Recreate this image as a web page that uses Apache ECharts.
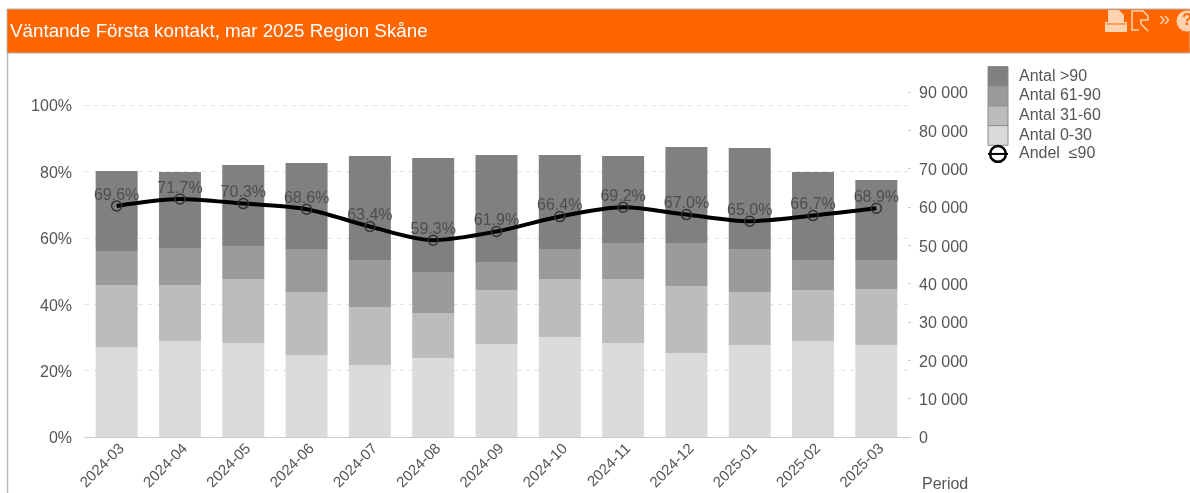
<!DOCTYPE html>
<html>
<head>
<meta charset="utf-8">
<title>Väntande Första kontakt</title>
<script src="https://cdn.jsdelivr.net/npm/echarts@6/dist/echarts.min.js"></script>
<style>
html, body { margin: 0; padding: 0; background: #fff; }
#main { width: 1190px; height: 493px; }
</style>
</head>
<body>
<div id="main"></div>
<script>
var periods = ['2024-03','2024-04','2024-05','2024-06','2024-07','2024-08','2024-09','2024-10','2024-11','2024-12','2025-01','2025-02','2025-03'];
var antal0_30 = [23480,25050,24520,21390,18780,20610,24260,26090,24520,21920,24000,25050,24000];
var antal31_60 = [16180,14610,16700,16440,15130,11740,14090,15130,16700,17480,13830,13310,14610];
var antal61_90 = [8870,9650,8610,11220,12260,10700,7300,7830,9390,11220,11220,7830,7570];
var antalOver90 = [20870,19830,21130,22440,27130,29740,27920,24520,22700,25050,26350,22960,20870];
var andel = [69.6,71.7,70.3,68.6,63.4,59.3,61.9,66.4,69.2,67.0,65.0,66.7,68.9];

var fontName = '"Liberation Sans", Arial, sans-serif';
var textGrey = '#555';
var iconColor = '#ffd2b0';

var chart = echarts.init(document.getElementById('main'));

function barSeries(name, data, color) {
    return {
        name: name,
        type: 'bar',
        stack: 'antal',
        yAxisIndex: 1,
        barWidth: 42,
        itemStyle: { color: color },
        data: data
    };
}

function barLegend(name) {
    return { name: name, icon: 'rect', itemStyle: { borderColor: '#8c8c8c', borderWidth: 1 } };
}

// tick labels sit a little lower than the tick in the original
var tickRich = { t: { color: textGrey, fontSize: 16, padding: [4, 0, 0, 0] } };

chart.setOption({
    animation: false,
    backgroundColor: '#fff',
    textStyle: { fontFamily: fontName },
    title: {
        text: 'Väntande Första kontakt, mar 2025 Region Skåne',
        left: 10,
        top: 22,
        padding: 0,
        textStyle: { color: '#fff', fontSize: 18.8, fontWeight: 'normal', fontFamily: fontName }
    },
    grid: { left: 85, right: 282, top: 92, bottom: 56, outerBoundsMode: 'none' },
    legend: {
        orient: 'vertical',
        left: 987,
        top: 66,
        padding: 0,
        itemGap: -1,
        itemWidth: 20,
        itemHeight: 19.7,
        textStyle: { color: textGrey, fontSize: 16, lineHeight: 18, padding: [0, 0, 0, 6], fontFamily: fontName },
        data: [
            barLegend('Antal >90'),
            barLegend('Antal 61-90'),
            barLegend('Antal 31-60'),
            barLegend('Antal 0-30'),
            { name: 'Andel  ≤90', itemStyle: { borderColor: '#000', borderWidth: 2.5 } }
        ]
    },
    xAxis: [{
        type: 'category',
        data: periods,
        axisLine: { lineStyle: { color: '#ccc', width: 1 } },
        axisTick: { show: false },
        axisLabel: { rotate: 45, color: textGrey, fontSize: 15, margin: 4, interval: 0, verticalAlign: 'top' }
    }],
    yAxis: [{
        type: 'value',
        min: 0,
        max: 103.92,
        interval: 20,
        axisLine: { show: false },
        axisTick: { show: false },
        axisLabel: {
            margin: 13, showMaxLabel: false, rich: tickRich,
            formatter: function (v) { return '{t|' + v + '%}'; }
        },
        splitLine: { show: true, showMaxLine: false, lineStyle: { color: '#e2e2e2', type: [4, 5], width: 1 } }
    }, {
        type: 'value',
        min: 0,
        max: 90000,
        interval: 10000,
        position: 'right',
        axisLine: { show: false },
        axisTick: { show: true, length: 3, lineStyle: { color: '#ccc' } },
        axisLabel: {
            margin: 11, rich: tickRich,
            formatter: function (v) {
                return '{t|' + String(v).replace(/\B(?=(\d{3})+$)/g, ' ') + '}';
            }
        },
        splitLine: { show: false }
    }],
    series: [
        barSeries('Antal 0-30', antal0_30, '#dbdbdb'),
        barSeries('Antal 31-60', antal31_60, '#bcbcbc'),
        barSeries('Antal 61-90', antal61_90, '#9b9b9b'),
        barSeries('Antal >90', antalOver90, '#808080'),
        {
            name: 'Andel  ≤90',
            type: 'line',
            yAxisIndex: 0,
            smooth: 0.3,
            z: 5,
            symbol: 'circle',
            symbolSize: 10,
            showAllSymbols: true,
            lineStyle: { color: '#000', width: 4 },
            itemStyle: { color: 'rgba(0,0,0,0)', borderColor: '#333', borderWidth: 1.5 },
            label: {
                show: true,
                position: 'top',
                distance: 0,
                offset: [0, 3],
                color: '#4d4d4d',
                fontSize: 16,
                formatter: function (p) { return p.value.toFixed(1) + '%'; }
            },
            data: andel
        }
    ],
    graphic: [
        // orange header band with thin frame
        { type: 'rect', silent: true, z: -1, shape: { x: 7, y: 9, width: 1183, height: 44 }, style: { fill: '#ff6600', stroke: '#b4b4b4', lineWidth: 1 } },
        { type: 'line', silent: true, shape: { x1: 7.5, y1: 53, x2: 7.5, y2: 493 }, style: { stroke: '#b4bcbc', lineWidth: 1.5 } },
        // print icon
        { type: 'polygon', silent: true, shape: { points: [[1108, 10], [1119, 10], [1124, 15], [1124, 22], [1127, 22], [1127, 32], [1105, 32], [1105, 22], [1108, 22]] }, style: { fill: iconColor } },
        { type: 'line', silent: true, shape: { x1: 1106, y1: 24, x2: 1126, y2: 24 }, style: { stroke: '#ff6600', lineWidth: 1 } },
        // report icon
        { type: 'polyline', silent: true, shape: { points: [[1139, 30], [1132, 30], [1132, 11], [1143, 11], [1148, 16], [1148, 20], [1141, 20], [1141, 24], [1148, 31]] }, style: { stroke: iconColor, fill: null, lineWidth: 1.5 } },
        { type: 'text', silent: true, style: { x: 1159, y: 9, text: '»', fill: iconColor, fontSize: 20, fontFamily: fontName } },
        // help icon
        { type: 'circle', silent: true, shape: { cx: 1187, cy: 21, r: 10.5 }, style: { fill: iconColor } },
        { type: 'text', silent: true, style: { x: 1182, y: 12, text: '?', fill: '#ff6600', fontSize: 17, fontWeight: 'bold', fontFamily: fontName } },
        // x axis caption
        { type: 'text', silent: true, style: { x: 922, y: 477, text: 'Period', fill: textGrey, fontSize: 16, fontFamily: fontName } }
    ]
});
</script>
</body>
</html>
